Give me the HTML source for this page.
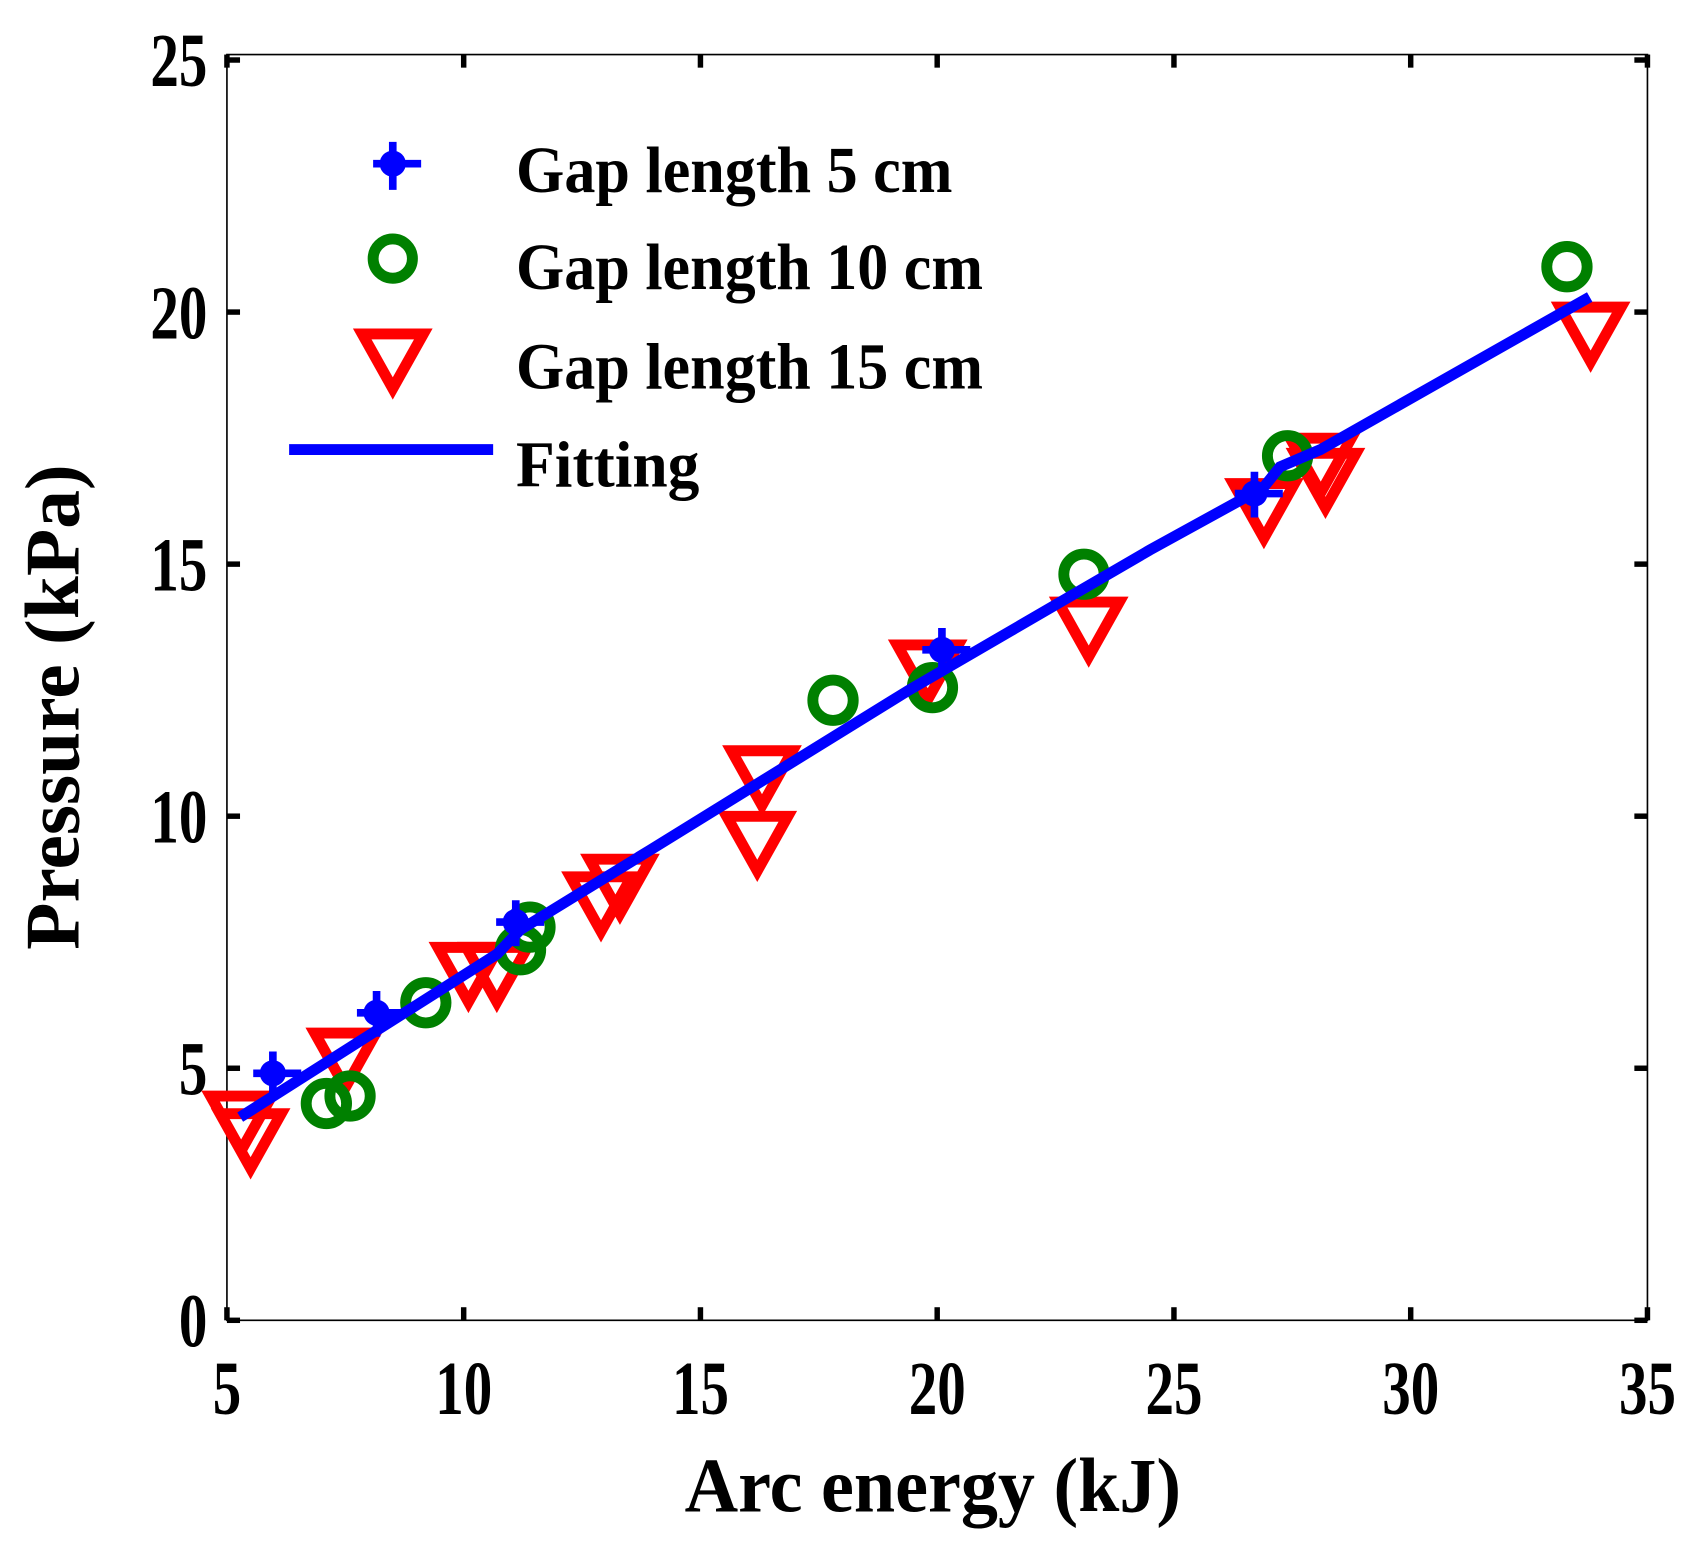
<!DOCTYPE html>
<html><head><meta charset="utf-8"><style>html,body{margin:0;padding:0;background:#fff}svg{display:block}text{font-family:"Liberation Serif",serif;font-weight:bold;fill:#000}</style></head>
<body>
<svg id="chart" width="1702" height="1544" viewBox="0 0 1560 1415" preserveAspectRatio="none" xmlns="http://www.w3.org/2000/svg">
<rect x="208" y="50" width="1302" height="1160" fill="#fff" stroke="#000" stroke-width="1.5"/>
<g id="ticks"></g>
<g id="marks"></g>
<text transform="translate(855,1385) scale(1,1.15)" font-size="62" text-anchor="middle" textLength="455" lengthAdjust="spacingAndGlyphs">Arc energy (kJ)</text>
<text transform="translate(72,648) rotate(-90) scale(1,1.15)" font-size="62" text-anchor="middle" textLength="445" lengthAdjust="spacingAndGlyphs">Pressure (kPa)</text>
<g>
<g>
<path d="M360 130 V174 M342 150 H386" stroke="#0000ff" stroke-width="7"/><circle cx="360" cy="150" r="12" fill="#0000ff"/>
<text transform="translate(473,176) scale(1,1.12)" font-size="54" textLength="400" lengthAdjust="spacingAndGlyphs">Gap length 5 cm</text></g>
<g>
<circle cx="360" cy="237" r="18" fill="none" stroke="#008000" stroke-width="10"/>
<text transform="translate(473,265) scale(1,1.12)" font-size="54" textLength="428" lengthAdjust="spacingAndGlyphs">Gap length 10 cm</text></g>
<g>
<path d="M332 306 L388 306 L360 356 Z" fill="none" stroke="#ff0000" stroke-width="10"/>
<text transform="translate(473,356) scale(1,1.12)" font-size="54" textLength="428" lengthAdjust="spacingAndGlyphs">Gap length 15 cm</text></g>
<g>
<line x1="265" y1="412" x2="452" y2="412" stroke="#0000ff" stroke-width="10"/>
<text transform="translate(473,446) scale(1,1.12)" font-size="54" textLength="168" lengthAdjust="spacingAndGlyphs">Fitting</text></g>
</g>
</svg>
<script>
const xTicks=[5,10,15,20,25,30,35];
const yTicks=[0,5,10,15,20,25];
const gap5X=[5.97,8.16,11.1,20.1,26.7];
const gap5Y=[4.9,6.1,7.9,13.3,16.4];
const gap10X=[7.1,7.6,9.2,11.2,11.4,17.8,19.9,23.1,27.4,33.3];
const gap10Y=[4.3,4.45,6.3,7.35,7.8,12.3,12.55,14.8,17.15,20.9];
const gap15X=[5.3,5.5,7.5,10.1,10.7,12.9,13.3,16.3,16.2,19.8,23.2,26.9,28.1,28.2,33.8];
const gap15Y=[3.95,3.6,5.2,6.9,6.9,8.3,8.65,10.8,9.5,12.9,13.75,16.1,17.0,16.7,19.6];
const fitX=[5.28,10.71,11.2,13.94,19.42,24.49,26.89,27.24,28.09,33.78];
const fitY=[4.03,7.27,7.75,9.33,12.51,15.28,16.52,16.93,17.27,20.3];
const NS="http://www.w3.org/2000/svg";
const X=v=>208+(v-5)*43.4;
const Y=v=>1210-v*46.2;
function mk(tag,attrs,parent){const e=document.createElementNS(NS,tag);for(const k in attrs)e.setAttribute(k,attrs[k]);parent.appendChild(e);return e;}
const tg=document.getElementById('ticks');
xTicks.forEach(v=>{
 mk('line',{x1:X(v),y1:1210,x2:X(v),y2:1198,stroke:'#000','stroke-width':5},tg);
 mk('line',{x1:X(v),y1:50,x2:X(v),y2:62,stroke:'#000','stroke-width':5},tg);
 const t=mk('text',{transform:`translate(${X(v)},1296) scale(0.9,1.2)`,'font-size':58,'text-anchor':'middle'},tg);t.textContent=v;
 
 
});
yTicks.forEach(v=>{
 mk('line',{x1:208,y1:Y(v),x2:220,y2:Y(v),stroke:'#000','stroke-width':5},tg);
 mk('line',{x1:1510,y1:Y(v),x2:1498,y2:Y(v),stroke:'#000','stroke-width':5},tg);
 const t=mk('text',{transform:`translate(190,${Y(v)+24}) scale(0.9,1.2)`,'font-size':58,'text-anchor':'end'},tg);t.textContent=v;
 
 
});
const g=document.getElementById('marks');
gap15X.forEach((v,i)=>{const cx=X(v),cy=Y(gap15Y[i]);
 const p=mk('path',{d:`M${cx-28} ${cy-23} L${cx+28} ${cy-23} L${cx} ${cy+27} Z`,fill:'none',stroke:'#ff0000','stroke-width':10},g);
 
 
});
gap10X.forEach((v,i)=>{
 const c=mk('circle',{cx:X(v),cy:Y(gap10Y[i]),r:18.5,fill:'none',stroke:'#008000','stroke-width':10},g);
 
 
});
gap5X.forEach((v,i)=>{const cx=X(v),cy=Y(gap5Y[i]);
 const p=mk('path',{d:`M${cx} ${cy-20} V${cy+22} M${cx-18} ${cy} H${cx+26}`,stroke:'#0000ff','stroke-width':7},g);
 
 
 const c=mk('circle',{cx:cx,cy:cy,r:12,fill:'#0000ff'},g);
 
 
});
const fl=mk('polyline',{points:fitX.map((v,i)=>X(v)+','+Y(fitY[i])).join(' '),fill:'none',stroke:'#0000ff','stroke-width':10},g);


</script>
</body></html>
